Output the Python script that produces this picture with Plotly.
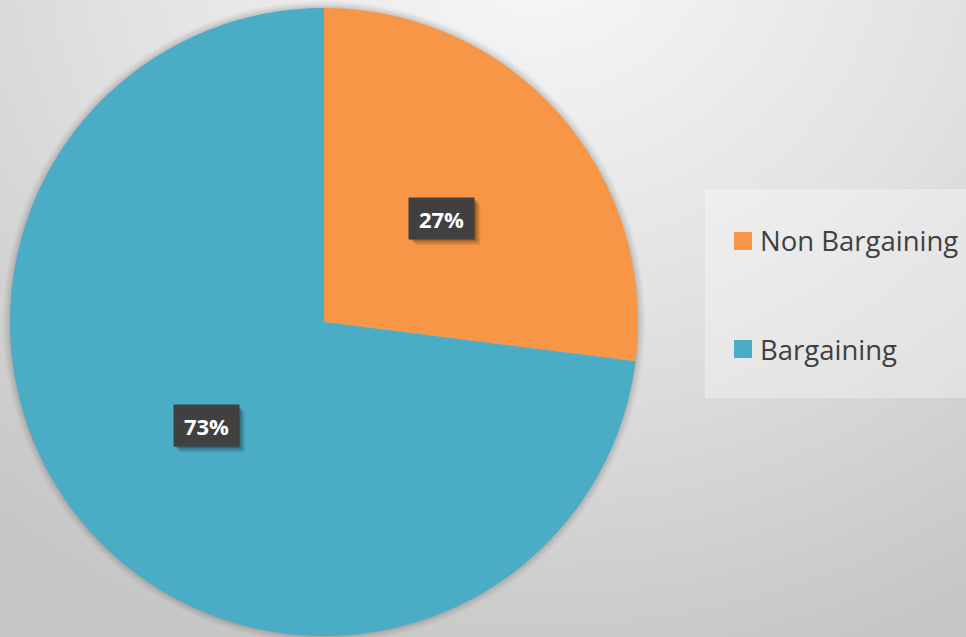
import math
import base64
import plotly.graph_objects as go

# Share of agreements by type
labels = ["Non Bargaining", "Bargaining"]
values = [27, 73]
colors = ["#F79646", "#4BACC6"]

W, H = 966, 637
CX, CY, R = 324, 322, 314  # pie centre and radius in pixels
BOX_W, BOX_H = 65, 41       # data label box size


def px(x):
    return x / W


def py(y):
    return 1 - y / H


# Soft radial background
svg = f"""<svg xmlns='http://www.w3.org/2000/svg' width='{W}' height='{H}'>
<defs><radialGradient id='g' gradientUnits='userSpaceOnUse' cx='540' cy='-60' r='840'
 gradientTransform='translate(540 -60) scale(1 0.9) translate(-540 60)'>
<stop offset='0' stop-color='#f8f8f8'/><stop offset='0.5' stop-color='#e2e2e2'/>
<stop offset='1' stop-color='#c6c6c6'/></radialGradient></defs>
<rect width='{W}' height='{H}' fill='url(#g)'/></svg>"""
bg_uri = "data:image/svg+xml;base64," + base64.b64encode(svg.encode()).decode()

fig = go.Figure(
    go.Pie(
        labels=labels,
        values=values,
        marker=dict(colors=colors, line=dict(width=0)),
        sort=False,
        direction="clockwise",
        rotation=0,
        textinfo="none",
        hoverinfo="label+percent",
        showlegend=False,
        domain=dict(x=[px(CX - R), px(CX + R)], y=[py(CY + R), py(CY - R)]),
    )
)

shapes = []
# faint halo around the pie
for k, a in [(7, 0.03), (5, 0.04), (3, 0.05), (1, 0.06)]:
    shapes.append(dict(
        type="circle", xref="paper", yref="paper", layer="below",
        x0=px(CX - R - k), x1=px(CX + R + k), y0=py(CY + R + k), y1=py(CY - R - k),
        fillcolor=f"rgba(0,0,0,{a})", line=dict(width=0),
    ))

# legend panel
shapes.append(dict(
    type="rect", xref="paper", yref="paper", layer="below",
    x0=px(705), x1=px(966), y0=py(398), y1=py(189),
    fillcolor="rgba(255,255,255,0.32)", line=dict(width=0),
))

annotations = []
total = sum(values)
cum = 0
for lab, v in zip(labels, values):
    mid = (cum + v / 2) / total * 2 * math.pi
    cum += v
    lx = CX + 0.5 * R * math.sin(mid)
    ly = CY - 0.5 * R * math.cos(mid)
    # drop shadow behind the label box
    for off, a in [(6, 0.10), (4, 0.15), (2, 0.2)]:
        shapes.append(dict(
            type="rect", xref="paper", yref="paper", layer="above",
            x0=px(lx - BOX_W / 2 + off), x1=px(lx + BOX_W / 2 + off),
            y0=py(ly + BOX_H / 2 + off), y1=py(ly - BOX_H / 2 + off),
            fillcolor=f"rgba(0,0,0,{a})", line=dict(width=0),
        ))
    annotations.append(dict(
        x=px(lx), y=py(ly), xref="paper", yref="paper",
        xanchor="center", yanchor="middle",
        text=f"<b>{round(v / total * 100)}%</b>", showarrow=False,
        width=BOX_W, height=BOX_H, borderpad=0,
        bgcolor="#404040", font=dict(color="white", size=22, family="Open Sans"),
    ))

# legend entries
legend_rows = [241, 349]
for lab, col, ry in zip(labels, colors, legend_rows):
    shapes.append(dict(
        type="rect", xref="paper", yref="paper",
        x0=px(734), x1=px(752), y0=py(ry + 9), y1=py(ry - 9),
        fillcolor=col, line=dict(width=0),
    ))
    annotations.append(dict(
        x=px(758), y=py(ry), xref="paper", yref="paper", xanchor="left",
        yanchor="middle", text=lab, showarrow=False,
        font=dict(color="#404040", size=27.5, family="Open Sans"),
    ))

fig.update_layout(
    width=W, height=H,
    margin=dict(l=0, r=0, t=0, b=0),
    paper_bgcolor="#dcdcdc",
    plot_bgcolor="rgba(0,0,0,0)",
    images=[dict(source=bg_uri, xref="paper", yref="paper", x=0, y=1,
                 sizex=1, sizey=1, sizing="stretch", layer="below",
                 xanchor="left", yanchor="top")],
    shapes=shapes,
    annotations=annotations,
)

fig.write_html("out.html")
